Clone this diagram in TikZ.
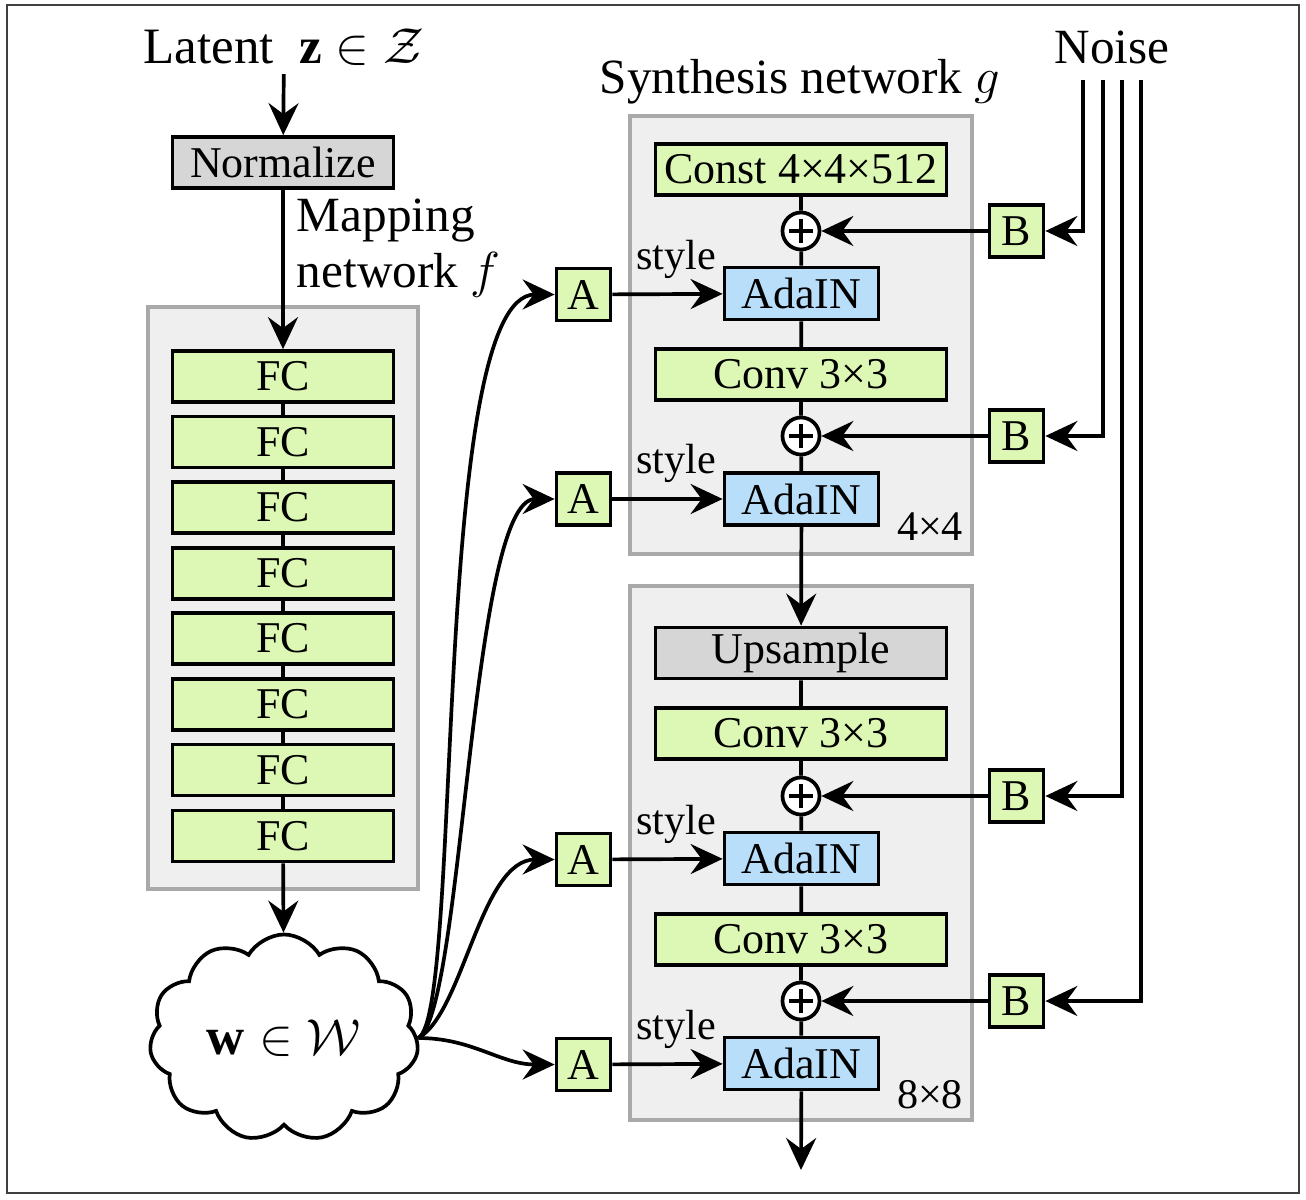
\documentclass[tikz,border=0pt]{standalone}
\usepackage{fontspec}
\setmainfont{Liberation Serif}
\usetikzlibrary{arrows.meta, shapes.symbols, positioning}
\definecolor{fcgreen}{HTML}{DDF8B4}
\definecolor{adablue}{HTML}{B8DEFA}
\definecolor{normgray}{HTML}{D6D6D6}
\definecolor{panelgray}{HTML}{EFEFEF}
\definecolor{panelline}{HTML}{A9A9A9}
\newcommand{\bigtxt}{\fontsize{14}{16}\selectfont}
\newcommand{\boxtxt}{\fontsize{12.5}{14}\selectfont}
\newcommand{\smalltxt}{\fontsize{12}{14}\selectfont}

\tikzset{
  blk/.style={draw, line width=1.05pt, minimum height=0.51cm, inner sep=0pt, font=\boxtxt},
  fcbox/.style={blk, fill=fcgreen, minimum width=2.21cm},
  graybox/.style={blk, fill=normgray},
  widebox/.style={blk, fill=fcgreen, minimum width=2.91cm},
  adabox/.style={blk, fill=adablue, minimum width=1.54cm, minimum height=0.52cm},
  abox/.style={blk, fill=fcgreen, minimum width=0.54cm, minimum height=0.52cm},
  plusnode/.style={circle, draw, fill=white, minimum size=0.37cm, inner sep=0pt,
    path picture={\draw ([xshift=-0.12cm]path picture bounding box.center) -- ([xshift=0.12cm]path picture bounding box.center)
      ([yshift=-0.12cm]path picture bounding box.center) -- ([yshift=0.12cm]path picture bounding box.center);}},
  panel/.style={fill=panelgray, draw=panelline, line width=1pt},
  tlabel/.style={font=\bigtxt, inner sep=2pt},
  smalllab/.style={font=\smalltxt, inner sep=1pt},
  wcloud/.style={cloud, draw, cloud puffs=11, cloud puff arc=120, aspect=1.45, minimum width=2.22cm, font=\fontsize{15}{18}\selectfont}
}

\begin{document}
\begin{tikzpicture}[x=0.01cm, y=-0.01cm, line width=1.05pt,
    >={Stealth[length=0.32cm,width=0.3cm,inset=0.11cm]}]
    \useasboundingbox (0,0) rectangle (1306,1200);
    \draw[black!75, line width=0.6pt] (7,5) rectangle (1299,1193);

    %panels
    \draw[panel] (148,307) rectangle (418,889);
    \draw[panel] (630,116) rectangle (972,554);
    \draw[panel] (630,586) rectangle (972,1120);

    %mapping network
    \node[tlabel, font=\fontsize{14.5}{16}\selectfont] (latent) at (284,47) {Latent\enspace$\mathbf{z}\in\mathcal{Z}$};
    \node[graybox, minimum width=2.21cm] (norm) at (283,162.5) {Normalize};
    \node[tlabel, anchor=west, align=left] (maplab) at (288,248) {Mapping\\network $f$};
    \node[fcbox] (fc1) at (283,376.5) {FC};
    \node[fcbox] (fc2) at (283,442) {FC};
    \node[fcbox] (fc3) at (283,507.5) {FC};
    \node[fcbox] (fc4) at (283,573.5) {FC};
    \node[fcbox] (fc5) at (283,638.5) {FC};
    \node[fcbox] (fc6) at (283,704.5) {FC};
    \node[fcbox] (fc7) at (283,770) {FC};
    \node[fcbox] (fc8) at (283,836) {FC};
    \node[wcloud] (w) at (284,1038) {$\mathbf{w}\in\mathcal{W}$};

    \draw[->] (latent) -- (norm);
    \draw[->] (norm) -- (fc1);
    \foreach \i [count=\j from 2] in {1,...,7}
        \draw (fc\i) -- (fc\j);
    \draw[->] (fc8) -- (w);

    %synthesis network
    \node[tlabel] (synlab) at (800,82) {Synthesis network $g$};
    \node[tlabel] (noise) at (1112,47) {Noise};
    \node[widebox] (const) at (801,169.5) {Const 4×4×512};
    \node[plusnode] (p1) at (801,231) {};
    \node[adabox] (ada1) at (801.5,293.5) {AdaIN};
    \node[widebox] (conv1) at (801,374.5) {Conv 3×3};
    \node[plusnode] (p2) at (801,436) {};
    \node[adabox] (ada2) at (801.5,499) {AdaIN};
    \node[smalllab] (res1) at (930,527) {4×4};
    \node[graybox, minimum width=2.91cm] (up) at (801,653) {Upsample};
    \node[widebox] (conv2) at (801,733.5) {Conv 3×3};
    \node[plusnode] (p3) at (801,796) {};
    \node[adabox] (ada3) at (801.5,858.5) {AdaIN};
    \node[widebox] (conv3) at (801,939.5) {Conv 3×3};
    \node[plusnode] (p4) at (801,1001) {};
    \node[adabox] (ada4) at (801.5,1063.5) {AdaIN};
    \node[smalllab] (res2) at (930,1095) {8×8};
    \coordinate (out) at (801,1170);

    \draw (const) -- (p1) -- (ada1) -- (conv1) -- (p2) -- (ada2);
    \draw[->] (ada2) -- (up);
    \draw (up) -- (conv2) -- (p3) -- (ada3) -- (conv3) -- (p4) -- (ada4);
    \draw[->] (ada4) -- (out);

    %styles
    \node[abox] (a1) at (583.5,294.5) {A};
    \node[abox] (a2) at (583.5,499) {A};
    \node[abox] (a3) at (583.5,859.5) {A};
    \node[abox] (a4) at (583.5,1064.5) {A};
    \draw[->] (w.east) .. controls +(45,-25) and +(-153,0) .. (a1);
    \draw[->] (w.east) .. controls +(45,-25) and +(-113,0) .. (a2);
    \draw[->] (w.east) .. controls +(45,-25) and +(-103,0) .. (a3);
    \draw[->] (w.east) to[out=0, in=180] (a4);
    \draw[->] (a1) -- node[smalllab, above, pos=0.58, yshift=3pt] {style} (ada1);
    \draw[->] (a2) -- node[smalllab, above, pos=0.58, yshift=3pt] {style} (ada2);
    \draw[->] (a3) -- node[smalllab, above, pos=0.58, yshift=3pt] {style} (ada3);
    \draw[->] (a4) -- node[smalllab, above, pos=0.58, yshift=3pt] {style} (ada4);

    %noise
    \node[abox] (b1) at (1016.5,231) {B};
    \node[abox] (b2) at (1016.5,436) {B};
    \node[abox] (b3) at (1016.5,796) {B};
    \node[abox] (b4) at (1016.5,1001) {B};
    \coordinate (n1) at (1083,80);
    \coordinate (n2) at (1103,80);
    \coordinate (n3) at (1122,80);
    \coordinate (n4) at (1141,80);
    \draw[->] (n1) |- (b1);
    \draw[->] (n2) |- (b2);
    \draw[->] (n3) |- (b3);
    \draw[->] (n4) |- (b4);
    \draw[->] (b1) -- (p1);
    \draw[->] (b2) -- (p2);
    \draw[->] (b3) -- (p3);
    \draw[->] (b4) -- (p4);
\end{tikzpicture}
\end{document}
